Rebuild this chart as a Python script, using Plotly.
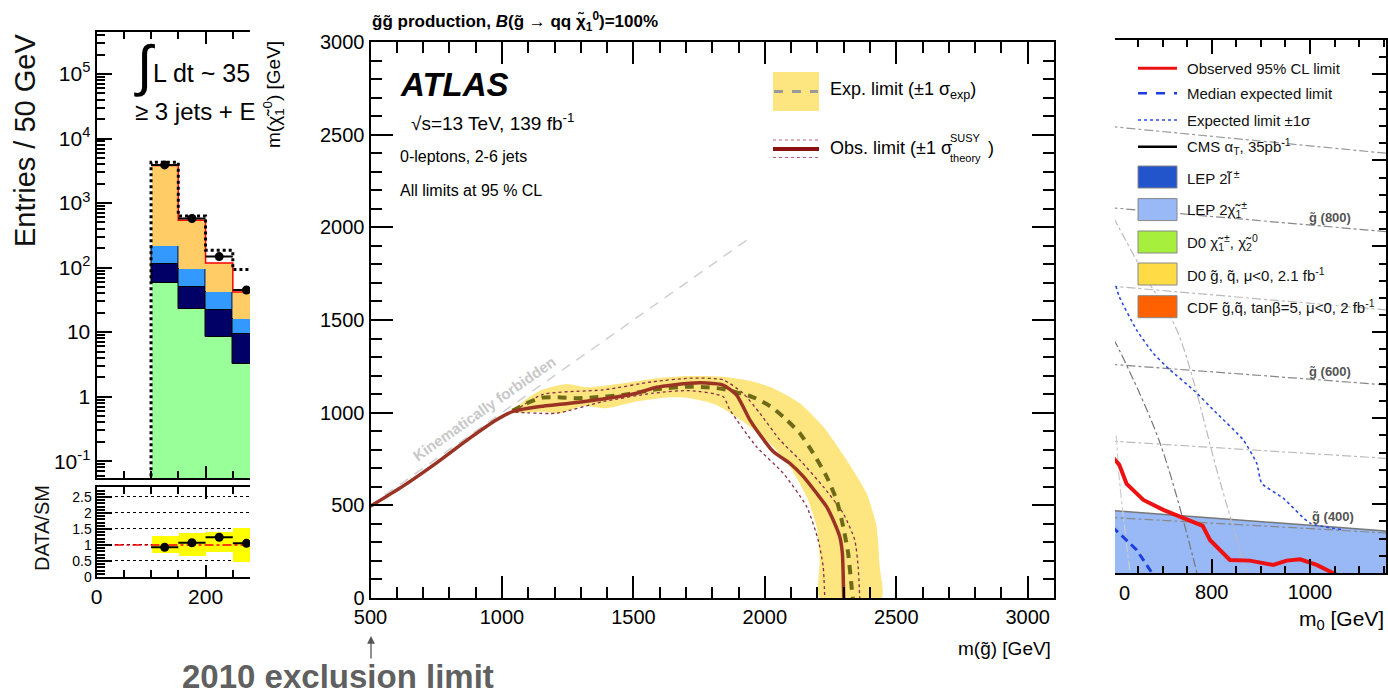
import plotly.graph_objects as go

W, H = 1388, 695
FONT = "Liberation Sans"

# ---------------- left panel (2010 histogram) ----------------
bin_centers = [125, 175, 225, 275]
bin_edges = [100, 150, 200, 250, 300]
green_top = [57, 23, 8.5, 3.2]
navy_top = [112, 50, 22, 9.2]
lblue_top = [215, 96, 42, 16]
orange_top = [3800, 540, 118, 42]
data_counts = [3900, 575, 148, 45]
dotted_total = [4300, 630, 185, 93]
ratio_vals = [0.93, 1.07, 1.24, 1.05]
ratio_band_lo = [0.74, 0.66, 0.79, 0.48]
ratio_band_hi = [1.28, 1.36, 1.42, 1.52]
log_tick_vals = [0.1, 1, 10, 100, 1000, 1e4, 1e5]
log_tick_text = ["10<sup>-1</sup>", "1", "10", "10<sup>2</sup>", "10<sup>3</sup>",
                 "10<sup>4</sup>", "10<sup>5</sup>"]
ratio_tick_vals = [0, 0.5, 1, 1.5, 2, 2.5]
ratio_tick_text = ["0", "0.5", "1", "1.5", "2", "2.5"]

# ---------------- centre panel (ATLAS 139 fb-1) ----------------
kin_x = [500, 1950]
kin_y = [500, 1950]
obs_x = [500, 625, 750, 875, 980, 1045, 1157, 1258, 1385, 1512, 1588, 1715, 1778, 1841,
         1892, 1943, 1968, 2032, 2095, 2146, 2197, 2235, 2260, 2285, 2295, 2298, 2300]
obs_y = [495, 605, 728, 860, 962, 1008, 1035, 1051, 1074, 1105, 1137, 1159, 1160, 1149,
         1096, 961, 908, 790, 727, 656, 565, 493, 421, 331, 241, 130, 0]
exp_x = [1040, 1094, 1151, 1214, 1278, 1335, 1461, 1588, 1702, 1780, 1841, 1956, 2019,
         2070, 2133, 2184, 2235, 2273, 2298, 2317, 2330, 2335]
exp_y = [1010, 1051, 1081, 1083, 1078, 1081, 1096, 1126, 1140, 1137, 1128, 1083, 1036,
         978, 889, 781, 655, 529, 385, 241, 61, 0]
band_up_x = [1043, 1100, 1157, 1246, 1322, 1461, 1588, 1715, 1841, 1950, 2031, 2133, 2222,
             2311, 2387, 2425, 2437, 2444]
band_up_y = [1015, 1080, 1126, 1155, 1137, 1159, 1186, 1198, 1194, 1170, 1132, 1051, 925,
             745, 565, 385, 169, 0]
band_lo_x = [1043, 1157, 1220, 1309, 1398, 1512, 1639, 1715, 1816, 1917, 2019, 2095, 2159,
             2197, 2209, 2209]
band_lo_y = [997, 1005, 997, 1036, 1024, 1060, 1083, 1078, 1042, 952, 835, 709, 547,
             385, 205, 0]
th_up_x = [1050, 1157, 1385, 1575, 1715, 1841, 1917, 1981, 2057, 2133, 2222, 2298, 2342,
           2355, 2361]
th_up_y = [1012, 1099, 1123, 1167, 1186, 1177, 1105, 997, 853, 745, 601, 457, 313, 169, 0]
th_lo_x = [1050, 1208, 1385, 1575, 1715, 1841, 1867, 1968, 2070, 2159, 2203, 2222, 2228]
th_lo_y = [1003, 997, 1060, 1105, 1119, 1087, 1015, 817, 673, 493, 313, 169, 0]
c_xticks = [500, 1000, 1500, 2000, 2500, 3000]
c_yticks = [0, 500, 1000, 1500, 2000, 2500, 3000]

# ---------------- right panel (CMS alpha_T 2010) ----------------
lep_x = [590, 800, 1000, 1160]
lep_y = [146.5, 141.8, 137.7, 134.3]
r_obs_x = [595, 612, 627, 661, 701.5, 745.7, 781.7, 796.5, 816.5, 837, 877.7, 925, 952.6,
           979.8, 1013.6, 1054]
r_obs_y = [178.7, 172.9, 161.8, 152.5, 146.7, 141.3, 137.4, 129.2, 123.4, 117.6, 117.2,
           114.7, 117.2, 118, 114.7, 109]
r_exp_x = [597, 612, 647.4, 678, 681]
r_exp_y = [136.8, 133.1, 123.4, 110.8, 109]
r_sig_x = [605, 612, 647.4, 681.2, 715.2, 762.6, 810.2, 864.3, 891.6, 901.7, 945.7, 1000,
           1067.8]
r_sig_y = [277, 270.7, 251.3, 237.8, 228.1, 216.5, 202.9, 187.4, 173.8, 162.2, 153.5, 139,
           135.1]
iso_x = [590, 1160]
iso_gl1000 = [369.8, 354.0]
iso_gl800 = [322.6, 308.4]
iso_c = [277.0, 262.9]
iso_gl600 = [231.5, 219.3]
iso_e = [186.8, 176.6]
iso_gl400 = [142.4, 133.2]
sq1_x = [600, 612, 695, 770]
sq1_y = [246, 239.7, 185.5, 110]
sq2_x = [600, 612, 670, 729, 816, 871]
sq2_y = [317, 310.5, 280, 251.3, 164.1, 110]
sq3_x = [606, 612, 634]
sq3_y = [190, 165, 110]


def PX(px):
    return px / W


def PY(py):
    return 1 - py / H


fig = go.Figure()

# ---- left: stacked histogram ----
prev = [1e-3] * 4
for tops, color, lw in [(green_top, "#99ff99", 0), (navy_top, "#000066", 1),
                        (lblue_top, "#3399ff", 1), (orange_top, "#ffcc66", 0)]:
    fig.add_trace(go.Bar(x=bin_centers, y=[t - b for t, b in zip(tops, prev)], base=prev,
                         width=50, marker=dict(color=color, line=dict(color="black", width=lw)),
                         xaxis="x", yaxis="y", showlegend=False))
    prev = tops

fig.add_trace(go.Scatter(x=bin_edges, y=orange_top + [orange_top[-1]], mode="lines",
                         line=dict(color="red", width=1.5, shape="hv"),
                         xaxis="x", yaxis="y", showlegend=False))
fig.add_trace(go.Scatter(x=[bin_edges[0]] + bin_edges, y=[1e-3] + dotted_total + [dotted_total[-1]],
                         mode="lines", line=dict(color="black", width=3, dash="dot", shape="hv"),
                         xaxis="x", yaxis="y", showlegend=False))
fig.add_trace(go.Scatter(x=bin_centers, y=data_counts, mode="markers",
                         marker=dict(color="black", size=9),
                         error_x=dict(type="constant", value=25, width=0, thickness=2, color="black"),
                         xaxis="x", yaxis="y", showlegend=False))

# ratio
fig.add_trace(go.Bar(x=bin_centers, y=[h - l for h, l in zip(ratio_band_hi, ratio_band_lo)],
                     base=ratio_band_lo, width=50, marker=dict(color="#ffff00", line=dict(width=0)),
                     xaxis="x2", yaxis="y2", showlegend=False))
fig.add_trace(go.Scatter(x=[0, 300], y=[1, 1], mode="lines",
                         line=dict(color="red", width=1.5, dash="dashdot"),
                         xaxis="x2", yaxis="y2", showlegend=False))
fig.add_trace(go.Scatter(x=bin_centers, y=ratio_vals, mode="markers",
                         marker=dict(color="black", size=9),
                         error_x=dict(type="constant", value=25, width=0, thickness=2, color="black"),
                         xaxis="x2", yaxis="y2", showlegend=False))

# ---- centre ----
fig.add_trace(go.Scatter(x=band_up_x + band_lo_x[::-1], y=band_up_y + band_lo_y[::-1],
                         mode="lines", fill="toself", fillcolor="#fde57f",
                         line=dict(width=0, shape="spline", smoothing=0.6),
                         xaxis="x3", yaxis="y3", showlegend=False))
fig.add_trace(go.Scatter(x=kin_x, y=kin_y, mode="lines",
                         line=dict(color="#cfcfcf", width=1.5, dash="10px,8px"),
                         xaxis="x3", yaxis="y3", showlegend=False))
for tx, ty in [(th_up_x, th_up_y), (th_lo_x, th_lo_y)]:
    fig.add_trace(go.Scatter(x=tx, y=ty, mode="lines",
                             line=dict(color="#8a2a4a", width=1.3, dash="dot", shape="spline",
                                       smoothing=0.6),
                             xaxis="x3", yaxis="y3", showlegend=False))
fig.add_trace(go.Scatter(x=exp_x, y=exp_y, mode="lines",
                         line=dict(color="#6e6a18", width=4, dash="9px,7px", shape="spline",
                                   smoothing=0.6),
                         xaxis="x3", yaxis="y3", showlegend=False))
fig.add_trace(go.Scatter(x=obs_x, y=obs_y, mode="lines",
                         line=dict(color="#9a3324", width=3.5, shape="spline", smoothing=0.6),
                         xaxis="x3", yaxis="y3", showlegend=False))

# ---- right ----
fig.add_trace(go.Scatter(x=lep_x, y=lep_y, mode="lines", fill="tozeroy", fillcolor="#98b9f5",
                         line=dict(color="#777777", width=1.5),
                         xaxis="x4", yaxis="y4", showlegend=False))
for yy, col in [(iso_gl1000, "#999999"), (iso_gl800, "#888888"), (iso_c, "#bbbbbb"),
                (iso_gl600, "#888888"), (iso_e, "#bbbbbb"), (iso_gl400, "#888888")]:
    fig.add_trace(go.Scatter(x=iso_x, y=yy, mode="lines",
                             line=dict(color=col, width=1.2, dash="dashdot"),
                             xaxis="x4", yaxis="y4", showlegend=False))
for sx, sy, col in [(sq1_x, sq1_y, "#777777"), (sq2_x, sq2_y, "#bbbbbb"), (sq3_x, sq3_y, "#cccccc")]:
    fig.add_trace(go.Scatter(x=sx, y=sy, mode="lines",
                             line=dict(color=col, width=1.2, dash="dashdot", shape="spline"),
                             xaxis="x4", yaxis="y4", showlegend=False))
fig.add_trace(go.Scatter(x=r_sig_x, y=r_sig_y, mode="lines",
                         line=dict(color="#2a4ae0", width=1.6, dash="dot", shape="spline",
                                   smoothing=0.5),
                         xaxis="x4", yaxis="y4", showlegend=False))
fig.add_trace(go.Scatter(x=r_exp_x, y=r_exp_y, mode="lines",
                         line=dict(color="#1c3ee0", width=3, dash="8px,5px"),
                         xaxis="x4", yaxis="y4", showlegend=False))
fig.add_trace(go.Scatter(x=r_obs_x, y=r_obs_y, mode="lines",
                         line=dict(color="#ee1111", width=4),
                         xaxis="x4", yaxis="y4", showlegend=False))


def axis(font_size=19, **kw):
    d = dict(showline=True, linecolor="black", linewidth=2, ticks="inside",
             tickcolor="black", showgrid=False, zeroline=False, automargin=False,
             tickfont=dict(family=FONT, size=font_size, color="black"))
    d.update(kw)
    return d


log_minor = [m * 10 ** e for e in range(-2, 6) for m in range(2, 10)]

layout = dict(
    width=W, height=H, margin=dict(l=0, r=0, t=0, b=0, pad=0, autoexpand=False), autosize=False,
    paper_bgcolor="white", plot_bgcolor="white", barmode="overlay", bargap=0,
    font=dict(family=FONT, color="black"), showlegend=False,
    xaxis=axis(domain=[PX(96.5), PX(250)], range=[0, 281.5], anchor="y",
               showticklabels=False, tickvals=[0, 200], ticklen=12, tickwidth=1.5,
               mirror="allticks", minor=dict(dtick=50, tick0=0, ticklen=7, ticks="inside",
                                             tickcolor="black")),
    yaxis=axis(21, domain=[PY(478), PY(32)], type="log", range=[-1.26, 5.65], anchor="x",
               tickvals=log_tick_vals, ticktext=log_tick_text, ticklen=15, tickwidth=1.5,
               minor=dict(tickmode="array", tickvals=log_minor, ticklen=8, ticks="inside",
                          tickcolor="black")),
    xaxis2=axis(21, domain=[PX(96.5), PX(250)], range=[0, 281.5], anchor="y2",
                tickvals=[0, 200, 400], ticktext=["0", "200", "400"], ticklen=12, tickwidth=1.5,
                mirror="allticks", minor=dict(dtick=50, tick0=0, ticklen=7, ticks="inside",
                                              tickcolor="black")),
    yaxis2=axis(14, domain=[PY(577), PY(487)], range=[0, 2.81], anchor="x2",
                tickvals=ratio_tick_vals, ticktext=ratio_tick_text, ticklen=15, tickwidth=1.5,
                minor=dict(dtick=0.1, tick0=0, ticklen=8, ticks="inside", tickcolor="black"),
                showgrid=True, gridcolor="black", griddash="dot", gridwidth=1),
    xaxis3=axis(20, domain=[PX(370.5), PX(1054)], range=[500, 3100], anchor="y3",
                tickvals=c_xticks, ticklen=22, tickwidth=2, mirror="allticks",
                minor=dict(dtick=100, tick0=0, ticklen=11, ticks="inside", tickcolor="black",
                           tickwidth=1.5)),
    yaxis3=axis(20, domain=[PY(598), PY(42)], range=[0, 3000], anchor="x3",
                tickvals=c_yticks, ticklen=22, tickwidth=2, mirror="allticks",
                minor=dict(dtick=100, tick0=0, ticklen=11, ticks="inside", tickcolor="black",
                           tickwidth=1.5)),
    xaxis4=axis(20, domain=[PX(1115), PX(1386)], range=[603.3, 1154.6], anchor="y4",
                tickvals=[800, 1000], ticklen=14, tickwidth=1.5, mirror="allticks",
                minor=dict(dtick=50, tick0=0, ticklen=7, ticks="inside", tickcolor="black")),
    yaxis4=axis(domain=[PY(573), PY(40)], range=[110, 420], anchor="x4", side="right",
                showticklabels=False, tick0=0, dtick=50, ticklen=14, tickwidth=1.5,
                minor=dict(dtick=10, tick0=0, ticklen=7, ticks="inside", tickcolor="black")),
)
fig.update_layout(**layout)

anns = []


def ann(px, py, text, size, xanchor="left", yanchor="middle", color="black", angle=0, **kw):
    anns.append(dict(x=PX(px), y=PY(py), xref="paper", yref="paper", text=text,
                     showarrow=False, xanchor=xanchor, yanchor=yanchor, textangle=angle,
                     font=dict(family=FONT, size=size, color=color), **kw))


# left panel texts
ann(25, 141, "Entries / 50 GeV", 29, "center", "middle", color="#111", angle=-90)
ann(42, 528, "DATA/SM", 20, "center", "middle", color="#111", angle=-90)
ann(132, 66, "∫", 56, "left", "middle")
ann(151, 73, "L dt ~ 35", 25, "left", "middle")
ann(133, 112, "≥ 3 jets + E", 24, "left", "middle")

# centre texts
ann(370, 22, "<b>g̃g̃ production, <i>B</i>(g̃ → qq χ̃<sub>1</sub><sup>0</sup>)=100%</b>", 17,
    "left", "middle")
ann(273, 95, "m(χ̃<sub>1</sub><sup>0</sup>) [GeV]", 19, "center", "middle", angle=-90)
ann(1053, 648, "m(g̃) [GeV]", 19, "right", "middle")
ann(398, 84, "<b><i>ATLAS</i></b>", 33, "left", "middle")
ann(409, 122, "√s=13 TeV, 139 fb<sup>-1</sup>", 19, "left", "middle")
ann(398, 157, "0-leptons, 2-6 jets", 16, "left", "middle")
ann(398, 190, "All limits at 95 % CL", 16, "left", "middle")
ann(484, 408, "<b>Kinematically forbidden</b>", 15, "center", "middle", color="#c8c8c8",
    angle=-35)
ann(828, 91, "Exp. limit (±1 σ<sub>exp</sub>)", 18, "left", "middle")
ann(828, 148, "Obs. limit (±1 σ", 18, "left", "middle")
ann(948, 138, "SUSY", 11, "left", "middle")
ann(948, 158, "theory", 11, "left", "middle")
ann(986, 148, ")", 18, "left", "middle")
ann(180, 676, "<b>2010 exclusion limit</b>", 33, "left", "middle", color="#606060")
anns.append(dict(x=PX(371), y=PY(636), xref="paper", yref="paper", text="", showarrow=True,
                 ax=0, ay=24, arrowhead=2, arrowsize=1.2, arrowwidth=1.3, arrowcolor="#555"))

# right texts
ann(1124, 593, "0", 20, "center", "middle")
ann(1386, 620, "m<sub>0</sub> [GeV]", 21, "right", "middle")
for lx, ly, lt in [(1040.6, 317, "g̃ (800)"), (1040.6, 227.1, "g̃ (600)"), (1047, 142.8, "g̃ (400)")]:
    anns.append(dict(x=lx, y=ly, xref="x4", yref="y4", text="<b>" + lt + "</b>", showarrow=False,
                     font=dict(family=FONT, size=13, color="#555")))
leg_rows = [68.3, 93.3, 120, 146.7, 177, 209.6, 242, 274, 306.7]
leg_texts = ["Observed 95% CL limit", "Median expected limit", "Expected limit ±1σ",
             "CMS α<sub>T</sub>, 35pb<sup>-1</sup>", "LEP 2l̃<sup> ±</sup>",
             "LEP 2χ̃<sub>1</sub><sup>±</sup>",
             "D0 χ̃<sub>1</sub><sup>±</sup>, χ̃<sub>2</sub><sup>0</sup>",
             "D0 g̃, q̃, μ&lt;0, 2.1 fb<sup>-1</sup>",
             "CDF g̃,q̃, tanβ=5, μ&lt;0, 2 fb<sup>-1</sup>"]
for ry, rt in zip(leg_rows, leg_texts):
    ann(1185, ry, rt, 15, "left", "middle", color="#111")

shapes = []
# right legend samples
for ry, col, dash, wdt in [(68.3, "#ee1111", "solid", 3), (93.3, "#1c3ee0", "dash", 2.5),
                           (120, "#2a4ae0", "dot", 1.5), (146.7, "black", "solid", 2.5)]:
    shapes.append(dict(type="line", xref="paper", yref="paper", x0=PX(1138), x1=PX(1177),
                       y0=PY(ry), y1=PY(ry), line=dict(color=col, width=wdt, dash=dash)))
for ry, col in zip(leg_rows[4:], ["#2255cc", "#98b9f5", "#a6ef3c", "#ffdb45", "#ff6000"]):
    shapes.append(dict(type="rect", xref="paper", yref="paper", x0=PX(1138), x1=PX(1177),
                       y0=PY(ry + 11), y1=PY(ry - 11), fillcolor=col,
                       line=dict(color="#888", width=1)))
# centre legend samples
shapes.append(dict(type="rect", xref="paper", yref="paper", x0=PX(773), x1=PX(819),
                   y0=PY(111), y1=PY(72), fillcolor="#fde57f", line=dict(width=0)))
shapes.append(dict(type="line", xref="paper", yref="paper", x0=PX(774), x1=PX(818),
                   y0=PY(91.5), y1=PY(91.5), line=dict(color="#999", width=3, dash="dash")))
shapes.append(dict(type="line", xref="paper", yref="paper", x0=PX(773), x1=PX(819),
                   y0=PY(149), y1=PY(149), line=dict(color="#8b1010", width=4)))
for ry in [140, 157.5]:
    shapes.append(dict(type="line", xref="paper", yref="paper", x0=PX(773), x1=PX(819),
                       y0=PY(ry), y1=PY(ry), line=dict(color="#c06070", width=1, dash="dot")))

fig.update_layout(annotations=anns, shapes=shapes)
fig.write_html("out.html")
